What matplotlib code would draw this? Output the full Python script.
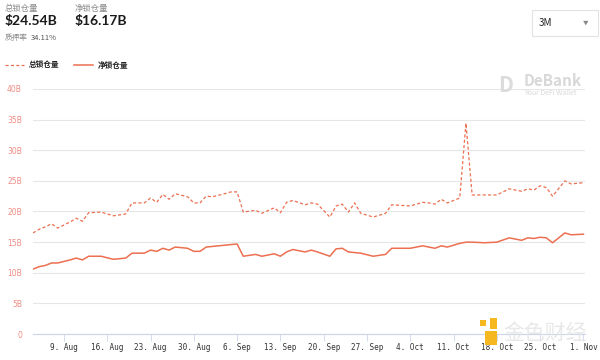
import pandas as pd
import matplotlib.pyplot as plt
import matplotlib.dates as mdates
from matplotlib.patches import Rectangle, FancyBboxPatch

plt.rcParams['font.family'] = ['Noto Sans CJK SC', 'DejaVu Sans']

# values (billions USD)
dates = ['2021-08-04', '2021-08-05', '2021-08-06', '2021-08-07', '2021-08-08',
         '2021-08-10', '2021-08-11', '2021-08-12', '2021-08-13', '2021-08-15',
         '2021-08-17', '2021-08-19', '2021-08-20', '2021-08-22', '2021-08-23',
         '2021-08-24', '2021-08-25', '2021-08-26', '2021-08-27', '2021-08-29',
         '2021-08-30', '2021-08-31', '2021-09-01', '2021-09-02', '2021-09-04',
         '2021-09-05', '2021-09-06', '2021-09-07', '2021-09-09', '2021-09-10',
         '2021-09-12', '2021-09-13', '2021-09-14', '2021-09-15', '2021-09-17',
         '2021-09-18', '2021-09-19', '2021-09-21', '2021-09-22', '2021-09-23',
         '2021-09-24', '2021-09-25', '2021-09-26', '2021-09-28', '2021-09-30',
         '2021-10-01', '2021-10-04', '2021-10-06', '2021-10-07', '2021-10-08',
         '2021-10-09', '2021-10-10', '2021-10-12', '2021-10-13', '2021-10-14',
         '2021-10-16', '2021-10-18', '2021-10-20', '2021-10-22', '2021-10-23',
         '2021-10-24', '2021-10-25', '2021-10-26', '2021-10-27', '2021-10-29',
         '2021-10-30', '2021-11-01']
total_tvl = [16.5, 17.1, 17.5, 18.0, 17.3,
             18.3, 18.9, 18.4, 19.8, 19.9,
             19.3, 19.6, 21.4, 21.4, 22.2,
             21.5, 22.8, 22.0, 22.9, 22.4,
             21.4, 21.4, 22.5, 22.4, 22.9,
             23.2, 23.2, 19.9, 20.2, 19.7,
             20.6, 19.8, 21.5, 21.8, 21.1,
             21.4, 21.2, 19.1, 20.9, 21.2,
             19.9, 21.4, 19.7, 19.1, 19.7,
             21.1, 20.9, 21.5, 21.4, 21.2,
             22.0, 21.4, 22.2, 34.4, 22.7,
             22.7, 22.7, 23.7, 23.3, 23.7,
             23.5, 24.2, 23.9, 22.5, 25.0,
             24.5, 24.7]
net_tvl = [10.6, 11.0, 11.2, 11.6, 11.6,
           12.1, 12.4, 12.1, 12.7, 12.7,
           12.2, 12.4, 13.2, 13.2, 13.7,
           13.5, 14.0, 13.7, 14.2, 14.0,
           13.5, 13.5, 14.2, 14.3, 14.5,
           14.6, 14.7, 12.7, 13.0, 12.7,
           13.1, 12.7, 13.4, 13.8, 13.4,
           13.7, 13.4, 12.7, 13.9, 14.0,
           13.4, 13.3, 13.2, 12.7, 13.0,
           14.0, 14.0, 14.4, 14.2, 14.0,
           14.4, 14.2, 14.8, 15.0, 15.0,
           14.9, 15.0, 15.7, 15.3, 15.7,
           15.6, 15.8, 15.7, 14.9, 16.5,
           16.2, 16.3]
y_ticks = [0, 5, 10, 15, 20, 25, 30, 35, 40]
y_labels = ['0', '5B', '10B', '15B', '20B', '25B', '30B', '35B', '40B']

df = pd.DataFrame({'date': pd.to_datetime(dates), 'total': total_tvl, 'net': net_tvl})

line_color = '#ec6f50'
fig = plt.figure(figsize=(6, 3.6), dpi=100)
ax = fig.add_axes([0.055, 0.072, 0.92, 0.681])

ax.plot(df.date, df.total, color=line_color, lw=0.9, ls=(0, (2.5, 1.8)))
ax.plot(df.date, df.net, color=line_color, lw=1.1)

ax.set_ylim(0, 40)
ax.set_xlim(pd.Timestamp('2021-08-04'), pd.Timestamp('2021-11-01 06:00'))
ax.set_yticks(y_ticks)
ax.set_yticklabels(y_labels, color='#f08c84', fontsize=5.5, family='DejaVu Sans')
ax.tick_params(axis='y', length=0, pad=8)
ax.grid(axis='y', color='#e6e6e6', lw=0.8)
ax.set_axisbelow(True)

ax.xaxis.set_major_locator(mdates.WeekdayLocator(byweekday=mdates.MO))
ax.xaxis.set_major_formatter(mdates.DateFormatter('%-d. %b'))
ax.tick_params(axis='x', length=5, width=0.6, color='#ccd6eb', labelsize=5.5,
               pad=1.5, labelcolor='#333333')
for lbl in ax.get_xticklabels():
    lbl.set_family('DejaVu Sans Mono')
for s in ['top', 'right', 'left']:
    ax.spines[s].set_visible(False)
ax.spines['bottom'].set_color('#ccd6eb')
ax.spines['bottom'].set_linewidth(0.8)

# header
fig.text(5 / 600, 1 - 8 / 360, '总锁仓量', fontsize=6, color='#8a8a8a', va='center')
fig.text(5 / 600, 1 - 21 / 360, '$24.54B', fontsize=10, fontweight='bold', color='#1a1a1a', va='center',
         family='Lato')
fig.text(75 / 600, 1 - 8 / 360, '净锁仓量', fontsize=6, color='#8a8a8a', va='center')
fig.text(75 / 600, 1 - 21 / 360, '$16.17B', fontsize=10, fontweight='bold', color='#1a1a1a', va='center',
         family='Lato')
fig.text(5 / 600, 1 - 38 / 360, '质押率', fontsize=5.5, color='#8a8a8a', va='center')
fig.text(31 / 600, 1 - 38 / 360, '34.11%', fontsize=5.5, color='#555555', va='center')

# legend
fig.add_artist(plt.Line2D([5 / 600, 24 / 600], [1 - 65 / 360] * 2, color=line_color, lw=0.9,
                          ls=(0, (2.5, 1.8))))
fig.text(29 / 600, 1 - 65 / 360, '总锁仓量', fontsize=5.5, fontweight='bold', color='#222222', va='center')
fig.add_artist(plt.Line2D([74 / 600, 93 / 600], [1 - 65 / 360] * 2, color=line_color, lw=1.1))
fig.text(98 / 600, 1 - 65 / 360, '净锁仓量', fontsize=5.5, fontweight='bold', color='#222222', va='center')

# period selector
fig.add_artist(FancyBboxPatch((532 / 600, 1 - 36 / 360), 66 / 600, 26 / 360,
                              boxstyle='square,pad=0', fc='white', ec='#e3e3e3', lw=0.8))
fig.text(539 / 600, 1 - 23 / 360, '3M', fontsize=7, color='#222222', va='center')
fig.text(586 / 600, 1 - 23 / 360, '▼', fontsize=4, color='#888888', va='center', ha='center')

# watermarks
fig.text(524 / 600, 1 - 81 / 360, 'DeBank', fontsize=11, fontweight='bold', color='#d8d8d8', va='center')
fig.text(524 / 600, 1 - 93 / 360, 'Your DeFi Wallet', fontsize=5, color='#d8d8d8', va='center')
fig.text(506 / 600, 1 - 86 / 360, 'D', fontsize=15, fontweight='bold', color='#dcdcdc', va='center',
         ha='center')
fig.add_artist(Rectangle((485 / 600, 1 - 345 / 360), 12 / 600, 14 / 360, fc='#f5b820', ec='none'))
fig.add_artist(Rectangle((490 / 600, 1 - 329 / 360), 7 / 600, 11 / 360, fc='#f5b820', ec='none'))
fig.add_artist(Rectangle((480 / 600, 1 - 326 / 360), 6 / 600, 6 / 360, fc='#f5b820', ec='none'))
fig.text(503 / 600, 1 - 333 / 360, '金色财经', fontsize=15, color='#e6e6e6', va='center', alpha=0.9)

fig.savefig('out.png', dpi=100)
